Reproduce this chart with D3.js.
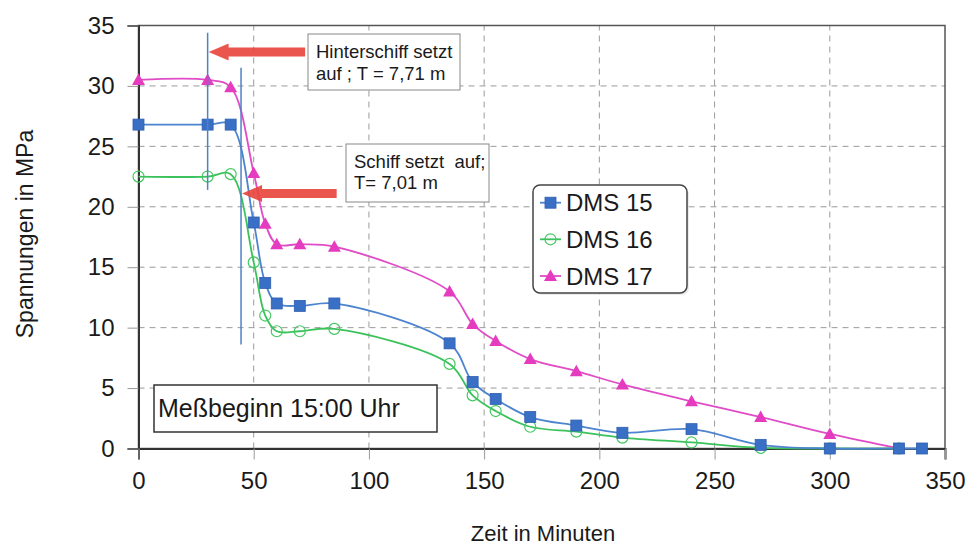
<!DOCTYPE html>
<html>
<head>
<meta charset="utf-8">
<script src="https://cdn.jsdelivr.net/npm/d3@7"></script>
<style>
  body { margin: 0; background: #fff; }
  svg text { font-family: "Liberation Sans", Arial, sans-serif; fill: #1a1a1a; }
</style>
</head>
<body>
<svg id="chart" width="967" height="546"></svg>
<script>
// Zeit in Minuten
const times = [0, 30, 40, 50, 55, 60, 70, 85, 135, 145, 155, 170, 190, 210, 240, 270, 300, 330, 340];
// Spannungen in MPa
const dms15 = [26.8, 26.8, 26.8, 18.7, 13.7, 12.0, 11.8, 12.0, 8.7, 5.5, 4.1, 2.6, 1.9, 1.3, 1.6, 0.3, 0, 0, 0];
const dms16 = [22.5, 22.5, 22.7, 15.4, 11.0, 9.7, 9.7, 9.9, 7.0, 4.4, 3.1, 1.8, 1.4, 0.9, 0.5, 0.05, 0, 0];
const dms17 = [30.5, 30.5, 29.9, 22.8, 18.6, 16.9, 16.9, 16.7, 13.0, 10.3, 8.9, 7.4, 6.4, 5.3, 3.9, 2.6, 1.2, 0];
const xTicks = [0, 50, 100, 150, 200, 250, 300, 350];
const yTicks = [0, 5, 10, 15, 20, 25, 30, 35];

const seriesNames = ["DMS 15", "DMS 16", "DMS 17"];
const lineColors = ["#4d84cf", "#3cc25c", "#e04cc6"];
const markColors = ["#3a6fc6", "#45c862", "#e53bbf"];

const svg = d3.select("#chart");
const x = d3.scaleLinear().domain([0, 350]).range([138.5, 945]);
const y = d3.scaleLinear().domain([0, 35]).range([448.5, 25.5]);

// grid
svg.append("g").selectAll("line")
  .data(yTicks.filter(d => d > 0 && d < 35))
  .enter().append("line")
  .attr("x1", x(0)).attr("x2", x(350))
  .attr("y1", d => y(d)).attr("y2", d => y(d))
  .attr("stroke", "#9a9a9a").attr("stroke-dasharray", "6,5");
svg.append("g").selectAll("line")
  .data(xTicks.filter(d => d > 0 && d < 350))
  .enter().append("line")
  .attr("y1", y(0)).attr("y2", y(35))
  .attr("x1", d => x(d)).attr("x2", d => x(d))
  .attr("stroke", "#9a9a9a").attr("stroke-dasharray", "6,5");

// frame
svg.append("rect")
  .attr("x", x(0)).attr("y", y(35))
  .attr("width", x(350) - x(0)).attr("height", y(0) - y(35))
  .attr("fill", "none").attr("stroke", "#555").attr("stroke-width", 1.5);

// axes
const yAxis = svg.append("g")
  .attr("transform", "translate(" + x(0) + ",0)")
  .call(d3.axisLeft(y).tickValues(yTicks).tickSize(11).tickPadding(13));
const xAxis = svg.append("g")
  .attr("transform", "translate(0," + y(0) + ")")
  .call(d3.axisBottom(x).tickValues(xTicks).tickSize(11).tickPadding(12));
[xAxis, yAxis].forEach(a => {
  a.select(".domain").attr("stroke", "#333").attr("stroke-width", 2);
  a.selectAll(".tick line").attr("stroke", "#999");
  a.selectAll(".tick text").attr("font-size", 24).attr("fill", "#1a1a1a")
    .style("font-family", "'Liberation Sans', Arial, sans-serif");
});

// axis titles
svg.append("text")
  .attr("transform", "translate(33,234) rotate(-90)")
  .attr("text-anchor", "middle").attr("font-size", 23)
  .text("Spannungen in MPa");
svg.append("text")
  .attr("x", 543).attr("y", 541)
  .attr("text-anchor", "middle").attr("font-size", 22)
  .text("Zeit in Minuten");

// series
const series = [dms15, dms16, dms17].map((vals, i) => ({
  name: seriesNames[i],
  i: i,
  pts: vals.map((v, k) => ({t: times[k], v: v}))
}));

const line = d3.line()
  .x(d => x(d.t)).y(d => y(d.v))
  .curve(d3.curveCatmullRom.alpha(0.5));

function drawMarker(g, i, cx, cy) {
  if (i === 0) {
    g.append("rect").attr("x", cx - 5.5).attr("y", cy - 5.5)
      .attr("width", 11).attr("height", 11)
      .attr("fill", markColors[0]).attr("stroke", "#2f5fb0").attr("stroke-width", 0.8);
  } else if (i === 1) {
    g.append("circle").attr("cx", cx).attr("cy", cy).attr("r", 5.5)
      .attr("fill", "none").attr("stroke", markColors[1]).attr("stroke-width", 1.2);
  } else {
    g.append("path")
      .attr("d", "M" + cx + "," + (cy - 6.5) + "L" + (cx + 6.5) + "," + (cy + 5) + "L" + (cx - 6.5) + "," + (cy + 5) + "Z")
      .attr("fill", markColors[2]);
  }
}

[2, 1, 0].forEach(i => {
  const s = series[i];
  svg.append("path").datum(s.pts)
    .attr("d", line)
    .attr("fill", "none").attr("stroke", lineColors[i]).attr("stroke-width", 1.8);
});
[2, 1, 0].forEach(i => {
  const g = svg.append("g");
  series[i].pts.forEach(d => drawMarker(g, i, x(d.t), y(d.v)));
});

// event annotations
const events = [
  {t: 30, v1: 34.4, v2: 21.4, av: 32.8, tail: 72.3,
   box: [308, 34, 152, 56], lines: ["Hinterschiff setzt", "auf ; T = 7,71 m"], tx: 316, ty: [58, 80]},
  {t: 44.5, v1: 31.5, v2: 8.6, av: 21.1, tail: 86,
   box: [346, 144, 143, 58], lines: ["Schiff setzt  auf;", "T= 7,01 m"], tx: 354, ty: [168, 189]}
];
events.forEach(e => {
  svg.append("line")
    .attr("x1", x(e.t)).attr("x2", x(e.t))
    .attr("y1", y(e.v1)).attr("y2", y(e.v2))
    .attr("stroke", "#4f80c8").attr("stroke-width", 1.5);
  const tip = x(e.t) + 1, tail = x(e.tail), ay = y(e.av);
  svg.append("path")
    .attr("d", "M" + tip + "," + ay +
      "L" + (tip + 20) + "," + (ay - 8.5) +
      "L" + (tip + 20) + "," + (ay - 4.5) +
      "L" + tail + "," + (ay - 4.5) +
      "L" + tail + "," + (ay + 4.5) +
      "L" + (tip + 20) + "," + (ay + 4.5) +
      "L" + (tip + 20) + "," + (ay + 8.5) + "Z")
    .attr("fill", "#e8463e").attr("opacity", 0.92);
  svg.append("rect")
    .attr("x", e.box[0]).attr("y", e.box[1]).attr("width", e.box[2]).attr("height", e.box[3])
    .attr("fill", "#fff").attr("stroke", "#888").attr("stroke-width", 1);
  e.lines.forEach((txt, k) => {
    svg.append("text").attr("x", e.tx).attr("y", e.ty[k])
      .attr("font-size", 18.5).style("white-space", "pre").text(txt);
  });
});

// start note
svg.append("rect")
  .attr("x", 154).attr("y", 385).attr("width", 283).attr("height", 47)
  .attr("fill", "#fff").attr("stroke", "#333").attr("stroke-width", 1.5);
svg.append("text").attr("x", 158).attr("y", 417)
  .attr("font-size", 25).text("Meßbeginn 15:00 Uhr");

// legend
const lg = svg.append("g");
lg.append("rect").attr("x", 535).attr("y", 187).attr("width", 154).attr("height", 108)
  .attr("rx", 7).attr("fill", "#ddd").attr("opacity", 0.6);
lg.append("rect").attr("x", 533).attr("y", 185).attr("width", 154).attr("height", 108)
  .attr("rx", 7).attr("fill", "#fff").attr("stroke", "#444").attr("stroke-width", 1.5);
const legendY = [202.7, 239.3, 276];
series.forEach((s, i) => {
  lg.append("line").attr("x1", 540).attr("x2", 561)
    .attr("y1", legendY[i]).attr("y2", legendY[i])
    .attr("stroke", lineColors[i]).attr("stroke-width", 1.8);
  drawMarker(lg, i, 550.5, legendY[i]);
  lg.append("text").attr("x", 566).attr("y", legendY[i] + 8.5)
    .attr("font-size", 24).text(s.name);
});
</script>
</body>
</html>
